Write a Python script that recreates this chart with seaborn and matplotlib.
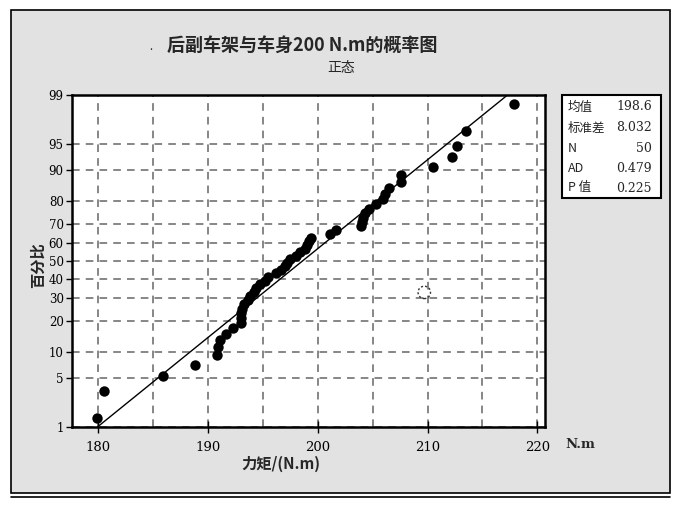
import matplotlib
matplotlib.use('Agg')
import matplotlib.pyplot as plt
import seaborn as sns
import numpy as np
import pandas as pd
from statistics import NormalDist
from matplotlib.patches import Rectangle
from matplotlib.lines import Line2D

# ---- data ----
torque = [179.9, 180.5, 185.9, 188.8, 190.8, 190.9, 191.1, 191.6, 192.3, 193.0,
          193.0, 193.0, 193.1, 193.3, 193.6, 193.8, 194.2, 194.4, 194.7, 195.2,
          195.5, 196.2, 196.6, 197.0, 197.2, 197.5, 198.0, 198.4, 198.8, 199.0,
          199.2, 199.4, 201.1, 201.7, 203.9, 204.0, 204.1, 204.3, 204.7, 205.3,
          205.9, 206.1, 206.5, 207.6, 207.6, 210.5, 212.2, 212.7, 213.5, 217.9]
mean_val = 198.6
sd_val = 8.032
stat_labels = ['均值', '标准差', 'N', 'AD', 'P 值']
stat_values = ['198.6', '8.032', '50', '0.479', '0.225']
y_ticks_pct = [1, 5, 10, 20, 30, 40, 50, 60, 70, 80, 90, 95, 99]
x_ticks = [180, 190, 200, 210, 220]
x_minor = [185, 195, 205, 215]
marker_x = [209.7]
marker_pct = [33.0]

title = '后副车架与车身200 N.m的概率图'
subtitle = '正态'
xlabel = '力矩/(N.m)'
ylabel = '百分比'
unit = 'N.m'

sns.set_theme(style='white')
plt.rcParams['font.family'] = ['Noto Sans CJK SC', 'DejaVu Sans']

nd = NormalDist()
n = len(torque)
ranks = np.arange(1, n + 1)
pct = (ranks - 0.3) / (n + 0.4)
z = [nd.inv_cdf(p) for p in pct]
df = pd.DataFrame({'torque': sorted(torque), 'z': z})

W, H = 682, 521
fig = plt.figure(figsize=(W / 100, H / 100), dpi=100)
fig.patch.set_facecolor('white')

# panel background
fig.add_artist(Rectangle((11 / W, 1 - 493 / H), 659 / W, 483 / H,
                         transform=fig.transFigure, facecolor='#e2e2e2',
                         edgecolor='black', lw=1.2, zorder=-2))
fig.add_artist(Line2D([11 / W, 670 / W], [1 - 497 / H, 1 - 497 / H],
                      transform=fig.transFigure, color='black', lw=1.2))

ax = fig.add_axes([72 / W, 1 - 427 / H, 473 / W, 332 / H])
ax.set_facecolor('white')

zlo, zhi = nd.inv_cdf(0.01), nd.inv_cdf(0.99)
fit = pd.DataFrame({'x': [mean_val + sd_val * zlo, mean_val + sd_val * zhi],
                    'z': [zlo, zhi]})
sns.lineplot(data=fit, x='x', y='z', ax=ax, color='black', lw=1.0, zorder=3)
sns.scatterplot(data=df, x='torque', y='z', ax=ax, color='black', s=56,
                edgecolor='black', linewidth=0, zorder=4)
mk = pd.DataFrame({'x': marker_x, 'z': [nd.inv_cdf(p / 100) for p in marker_pct]})
sns.scatterplot(data=mk, x='x', y='z', ax=ax, facecolors='none',
                edgecolor='#333333', linewidth=1.0, linestyle=(0, (1.5, 1.5)),
                s=80, zorder=4)

ax.set_xlim(177.6, 220.7)
ax.set_ylim(zlo, zhi)
ax.set_xticks(x_ticks)
ax.set_xticks(x_minor, minor=True)
ax.set_xticklabels([str(t) for t in x_ticks])
ax.set_yticks([nd.inv_cdf(p / 100) for p in y_ticks_pct])
ax.set_yticklabels([str(p) for p in y_ticks_pct])
ax.set_xlabel('')
ax.set_ylabel('')

ax.grid(True, which='both', axis='x', color='#666666', linestyle=(0, (5, 4)), lw=1.1)
ax.grid(True, which='major', axis='y', color='#666666', linestyle=(0, (5, 4)), lw=1.1)
ax.set_axisbelow(True)

for s in ax.spines.values():
    s.set_color('black')
    s.set_linewidth(1.8)

ax.tick_params(axis='x', which='major', direction='inout', length=8, width=1,
               colors='black', labelsize=9.5, pad=6)
ax.tick_params(axis='x', which='minor', direction='in', length=4, width=1, colors='black')
ax.tick_params(axis='y', which='major', direction='out', length=4, width=1,
               colors='black', labelsize=8.5, pad=2)
ax.tick_params(axis='x', bottom=True)
ax.tick_params(axis='y', left=True)
for lab in ax.get_xticklabels() + ax.get_yticklabels():
    lab.set_family(['DejaVu Serif'])

# titles and labels
fig.text(302 / W, 1 - 45 / H, title, ha='center', va='center', fontsize=13,
         fontweight='bold')
fig.text(151 / W, 1 - 47 / H, '.', ha='center', va='center', fontsize=8)
fig.text(341 / W, 1 - 68 / H, subtitle, ha='center', va='center', fontsize=10)
fig.text(38 / W, 1 - 265 / H, ylabel, ha='center', va='center', fontsize=11,
         fontweight='bold', rotation=90)
fig.text(281 / W, 1 - 464 / H, xlabel, ha='center', va='center', fontsize=11,
         fontweight='bold')
fig.text(580 / W, 1 - 445 / H, unit, ha='center', va='center', fontsize=9.5,
         fontweight='bold', family=['DejaVu Serif'])

# stats box
fig.add_artist(Rectangle((562 / W, 1 - 198 / H), 99 / W, 103 / H,
                         transform=fig.transFigure, facecolor='white',
                         edgecolor='black', lw=1.5, zorder=5))
rows_y = [107, 128, 148, 168, 188]
for lab, val, yy in zip(stat_labels, stat_values, rows_y):
    fig.text(568 / W, 1 - yy / H, lab, ha='left', va='center', fontsize=9,
             zorder=6)
    fig.text(652 / W, 1 - yy / H, val, ha='right', va='center', fontsize=9,
             family=['DejaVu Serif'], zorder=6)

fig.savefig('out.png', dpi=100, facecolor=fig.get_facecolor())
